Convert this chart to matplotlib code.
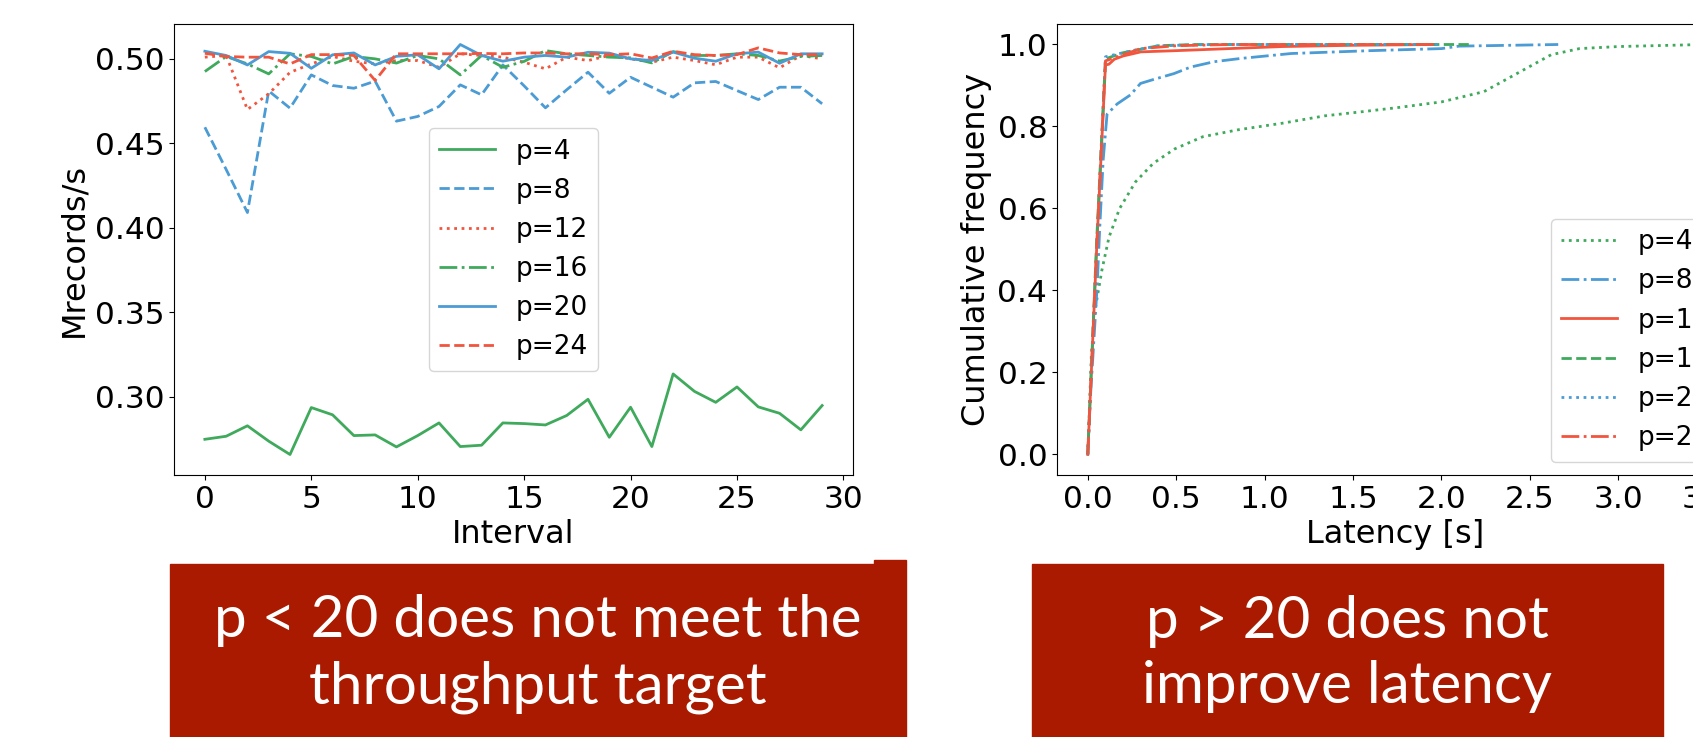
import numpy as np
import matplotlib
matplotlib.use("Agg")
import matplotlib.pyplot as plt
from matplotlib.patches import Rectangle
from matplotlib.ticker import MultipleLocator

# colours used in both panels
GREEN = "#3FA95C"
BLUE = "#4B9BD5"
RED = "#F2553D"
BOX_RED = "#A91A00"

# ---- left panel: throughput per interval ----
intervals = list(range(30))
labels = ["p=4", "p=8", "p=12", "p=16", "p=20", "p=24"]

tput_p4 = [0.2747, 0.2765, 0.2827, 0.2736, 0.2657, 0.2935, 0.2892, 0.2769, 0.2773, 0.2702,
           0.2769, 0.2844, 0.2704, 0.2712, 0.2844, 0.2840, 0.2832, 0.2888, 0.2984, 0.2759,
           0.2937, 0.2704, 0.3134, 0.3031, 0.2966, 0.3057, 0.2939, 0.2901, 0.2803, 0.2947]
tput_p8 = [0.4595, 0.4345, 0.4090, 0.4810, 0.4708, 0.4905, 0.4842, 0.4826, 0.4868, 0.4631,
           0.4659, 0.4718, 0.4846, 0.4787, 0.4964, 0.4840, 0.4710, 0.4817, 0.4921, 0.4796,
           0.4891, 0.4832, 0.4773, 0.4858, 0.4866, 0.4812, 0.4759, 0.4832, 0.4832, 0.4734]
tput_p12 = [0.5010, 0.5020, 0.4700, 0.4793, 0.4920, 0.4970, 0.5014, 0.4986, 0.4970, 0.4990,
            0.4990, 0.4950, 0.5030, 0.5020, 0.5010, 0.4980, 0.4941, 0.5010, 0.4990, 0.5020,
            0.5000, 0.4980, 0.5010, 0.4990, 0.4965, 0.5010, 0.5010, 0.4947, 0.5020, 0.5000]
tput_p16 = [0.4925, 0.5014, 0.4970, 0.4911, 0.5030, 0.5014, 0.4970, 0.5014, 0.5000, 0.4975,
            0.5020, 0.5000, 0.4905, 0.5020, 0.4950, 0.4985, 0.5049, 0.5030, 0.5020, 0.5010,
            0.5006, 0.4976, 0.5043, 0.5020, 0.5020, 0.5030, 0.5020, 0.4987, 0.5014, 0.5020]
tput_p20 = [0.5045, 0.5020, 0.4964, 0.5043, 0.5033, 0.4944, 0.5024, 0.5035, 0.4964, 0.5015,
            0.5024, 0.4941, 0.5085, 0.5020, 0.4986, 0.5010, 0.5020, 0.5010, 0.5039, 0.5034,
            0.5000, 0.4990, 0.5040, 0.5004, 0.4986, 0.5030, 0.5040, 0.4974, 0.5030, 0.5030]
tput_p24 = [0.5033, 0.5014, 0.5010, 0.5010, 0.4970, 0.5025, 0.5025, 0.5020, 0.4872, 0.5030,
            0.5030, 0.5030, 0.5030, 0.5032, 0.5030, 0.5035, 0.5035, 0.5030, 0.5030, 0.5025,
            0.5030, 0.5005, 0.5045, 0.5025, 0.5020, 0.5025, 0.5065, 0.5035, 0.5025, 0.5025]

# ---- right panel: latency CDF ----
lat_p4 = [0, 0.02, 0.04, 0.08, 0.12, 0.18, 0.27, 0.37, 0.49, 0.65, 0.85, 1.1, 1.34, 1.55,
          1.75, 2.0, 2.24, 2.43, 2.62, 2.78, 3.0, 3.48]
cdf_p4 = [0, 0.24, 0.35, 0.45, 0.53, 0.6, 0.665, 0.71, 0.745, 0.775, 0.792, 0.808, 0.826, 0.836,
          0.846, 0.86, 0.885, 0.93, 0.975, 0.99, 0.995, 1.0]
lat_p8 = [0, 0.015, 0.053, 0.068, 0.087, 0.109, 0.166, 0.241, 0.298, 0.374, 0.487, 0.582,
          0.714, 0.865, 1.15, 1.6, 2.0, 2.1, 2.66]
cdf_p8 = [0, 0.14, 0.41, 0.556, 0.718, 0.83, 0.855, 0.877, 0.905, 0.915, 0.929, 0.945,
          0.958, 0.966, 0.978, 0.985, 0.99, 0.996, 1.0]
lat_p12 = [0, 0.05, 0.1, 0.12, 0.15, 0.2, 0.3, 0.5, 0.8, 1.1, 1.5, 1.96]
cdf_p12 = [0, 0.5, 0.95, 0.952, 0.964, 0.972, 0.982, 0.985, 0.99, 0.995, 0.998, 1.0]
lat_p16 = [0, 0.05, 0.1, 0.2, 0.4, 0.6, 2.16]
cdf_p16 = [0, 0.52, 0.965, 0.98, 0.997, 1.0, 1.0]
lat_p20 = [0, 0.05, 0.1, 0.25, 0.4, 0.7, 2.0]
cdf_p20 = [0, 0.5, 0.97, 0.985, 0.997, 1.0, 1.0]
lat_p24 = [0, 0.05, 0.1, 0.3, 0.5, 0.8, 1.96]
cdf_p24 = [0, 0.5, 0.96, 0.99, 0.997, 1.0, 1.0]

fig = plt.figure(figsize=(16.93, 7.37), dpi=100)
W, H = 1693.0, 737.0


def px_axes(left, top, right, bottom):
    return fig.add_axes([left / W, 1 - bottom / H, (right - left) / W, (bottom - top) / H])


ax1 = px_axes(174, 24, 853, 475)
ax1.plot(intervals, tput_p4, color=GREEN, ls="-", lw=2, label=labels[0])
ax1.plot(intervals, tput_p8, color=BLUE, ls="--", lw=2, label=labels[1])
ax1.plot(intervals, tput_p12, color=RED, ls=":", lw=2, label=labels[2])
ax1.plot(intervals, tput_p16, color=GREEN, ls="-.", lw=2, label=labels[3])
ax1.plot(intervals, tput_p20, color=BLUE, ls="-", lw=2, label=labels[4])
ax1.plot(intervals, tput_p24, color=RED, ls="--", lw=2, label=labels[5])
ax1.set_xlabel("Interval", fontsize=23)
ax1.set_ylabel("Mrecords/s", fontsize=23)
ax1.set_yticks([0.30, 0.35, 0.40, 0.45, 0.50])
ax1.tick_params(labelsize=22.5)
ax1.legend(loc="center", fontsize=19, handlelength=2.1)

ax2 = px_axes(1057, 24, 1734, 475)
ax2.plot(lat_p4, cdf_p4, color=GREEN, ls=":", lw=2, label=labels[0])
ax2.plot(lat_p8, cdf_p8, color=BLUE, ls="-.", lw=2, label=labels[1])
ax2.plot(lat_p12, cdf_p12, color=RED, ls="-", lw=2, label=labels[2])
ax2.plot(lat_p16, cdf_p16, color=GREEN, ls="--", lw=2, label=labels[3])
ax2.plot(lat_p20, cdf_p20, color=BLUE, ls=":", lw=2, label=labels[4])
ax2.plot(lat_p24, cdf_p24, color=RED, ls="-.", lw=2, label=labels[5])
ax2.set_xlabel("Latency [s]", fontsize=23)
ax2.set_ylabel("Cumulative frequency", fontsize=23)
ax2.xaxis.set_major_locator(MultipleLocator(0.5))
ax2.tick_params(labelsize=22.5)
ax2.legend(loc="lower right", fontsize=19, handlelength=2.1)

# red caption boxes from the slide
def px_rect(left, top, right, bottom):
    fig.patches.append(Rectangle((left / W, 1 - bottom / H), (right - left) / W, (bottom - top) / H,
                                 transform=fig.transFigure, color=BOX_RED, zorder=0))


px_rect(170, 564, 906, 737)
px_rect(874, 560, 906, 564)
px_rect(1032, 564, 1663, 737)

box_font = dict(family=["Lato", "DejaVu Sans"], fontweight="normal", fontsize=42, color="white",
                ha="center", va="center", linespacing=1.3)
fig.text(538 / W, 1 - 654 / H, "p < 20 does not meet the\nthroughput target", **box_font)
fig.text(1347 / W, 1 - 654 / H, "p > 20 does not\nimprove latency", **box_font)

fig.savefig("out.png", dpi=100)
